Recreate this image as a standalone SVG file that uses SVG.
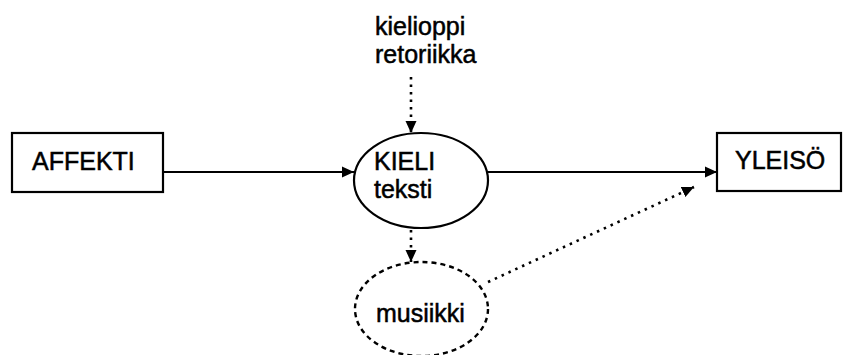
<svg xmlns="http://www.w3.org/2000/svg" width="843" height="355" viewBox="0 0 843 355">
  <style>
    .box { fill: #fff; stroke: #000; stroke-width: 2.2; }
    .oval { fill: #fff; stroke: #000; stroke-width: 2.2; }
    .oval-dashed { fill: #fff; stroke: #000; stroke-width: 2.4; stroke-dasharray: 5 4; }
    .lbl { font-family: "Liberation Sans", Arial, sans-serif; font-size: 25px; fill: #000; stroke: #000; stroke-width: 0.5; }
    .solid { fill: none; stroke: #000; stroke-width: 2.2; }
    .dotted { fill: none; stroke: #000; stroke-width: 2.6; stroke-dasharray: 2.5 5; stroke-linecap: butt; }
  </style>
  <defs>
    <marker id="head" viewBox="0 0 12 12" refX="12" refY="6" markerWidth="12" markerHeight="12" markerUnits="userSpaceOnUse" orient="auto">
      <path d="M0,0.5 L12,6 L0,11.5 z" fill="#000"/>
    </marker>
  </defs>
  <rect width="843" height="355" fill="#fff"/>

  <!-- connectors -->
  <g id="connectors">
    <line class="solid" x1="164" y1="172" x2="354" y2="172" marker-end="url(#head)"/>
    <line class="solid" x1="488" y1="172" x2="717" y2="172" marker-end="url(#head)"/>
    <line class="dotted" x1="411" y1="77" x2="411" y2="133" marker-end="url(#head)"/>
    <line class="dotted" x1="411" y1="230" x2="411" y2="262" marker-end="url(#head)"/>
    <line class="dotted" x1="488" y1="282" x2="694" y2="187" marker-end="url(#head)"/>
  </g>

  <!-- nodes -->
  <g id="affekti">
    <rect class="box" x="12" y="133" width="151" height="59"/>
    <text class="lbl" x="32" y="170">AFFEKTI</text>
  </g>

  <g id="kieli">
    <ellipse class="oval" cx="421" cy="180.5" rx="67" ry="47.5"/>
    <text class="lbl" x="374" y="170">KIELI</text>
    <text class="lbl" x="374" y="198">teksti</text>
  </g>

  <g id="yleiso">
    <rect class="box" x="717" y="133" width="124" height="58"/>
    <text class="lbl" x="735" y="169">YLEISÖ</text>
  </g>

  <g id="lahteet">
    <text class="lbl" x="375" y="35">kielioppi</text>
    <text class="lbl" x="375" y="63">retoriikka</text>
  </g>

  <g id="musiikki">
    <ellipse class="oval-dashed" cx="421.5" cy="309" rx="66.5" ry="47"/>
    <text class="lbl" x="376" y="322">musiikki</text>
  </g>
</svg>
